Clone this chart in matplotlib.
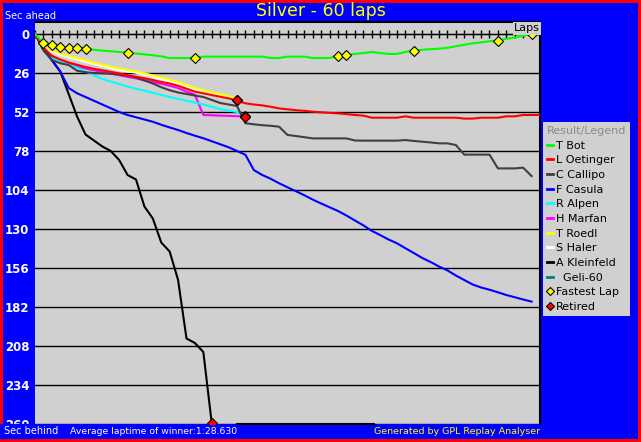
import matplotlib
matplotlib.use("Agg")
import matplotlib.pyplot as plt
from matplotlib.lines import Line2D
from matplotlib.patches import Rectangle

# Gap (sec) to the winner's average lap pace, one value per lap starting at lap 0
t_bot = [0, 6, 7.1, 8.4, 9.1, 9.1, 9.8, 10.5, 11.1, 11.5,
         12, 12.4, 13, 13.6, 14.2, 14.9, 16, 16, 16, 16,
         15.1, 15.1, 15.1, 15.1, 15.1, 15.1, 15.1, 15.1, 16, 16,
         15.1, 15.1, 15.1, 16, 16, 16, 14.4, 13.8, 13.3, 12.7,
         12, 12.7, 13.3, 13.3, 12, 11.1, 10.5, 10.1, 9.8, 9.2,
         8.2, 7.2, 6.2, 5.6, 4.8, 4.4, 3.2, 2.4, 1.2, 0, 0]
l_oetinger = [0, 9, 14.5, 17, 19, 20.5, 22, 23.2, 24.2, 25.2,
              26.3, 27.5, 28.5, 29.5, 30.7, 32, 33, 34.5, 36.5, 38.4,
              39.5, 40.7, 41.8, 42.9, 44.5, 46.2, 47, 47.6, 48.5, 49.6,
              50.2, 50.8, 51.2, 51.8, 52.2, 52.6, 52.9, 53.4, 54, 54.4,
              55.8, 55.8, 55.8, 55.8, 54.9, 55.8, 55.8, 55.8, 55.8, 55.8,
              55.8, 56.4, 56.4, 55.8, 55.8, 55.8, 54.9, 54.9, 54, 54, 54]
c_callipo = [0, 11, 17.3, 19.5, 20.7, 24.5, 25.5, 26, 26.2, 26.5,
             27, 27.8, 29, 31, 33, 35.5, 37.5, 39, 40, 41,
             42, 44, 46, 47, 48, 59.5, 60.2, 60.8, 61.2, 61.8,
             67.3, 68, 68.8, 69.6, 69.6, 69.6, 69.6, 69.6, 71, 71.1,
             71.1, 71.1, 71.1, 71.1, 70.7, 71.3, 71.8, 72.3, 72.9, 72.9,
             74, 80.4, 80.4, 80.4, 80.4, 89.6, 89.6, 89.6, 89.1, 94.7]
f_casula = [0, 9.6, 17.3, 25, 36, 39.5, 42, 44.5, 47, 49.5,
            52, 54, 55.5, 57, 58.5, 60.5, 62.3, 64, 66, 67.8,
            69.5, 71.5, 73.5, 75.5, 78, 80.5, 90.7, 94, 96.5, 99.5,
            102.2, 104.8, 107.5, 110.4, 113, 115.5, 118, 121, 124.3, 127.5,
            131.2, 134, 137, 139.5, 142.8, 146, 149.3, 152, 155, 157.6,
            161, 164, 167, 169, 170.5, 172.2, 174, 175.5, 177, 178.4]
r_alpen = [0, 11, 16, 18.5, 20.5, 22.5, 25, 27.5, 30, 31.7,
           33.4, 35, 36.5, 37.8, 39.2, 40.6, 42, 43.3, 44.5, 45.7,
           47, 48.5, 50, 51, 52, 54.5]
h_marfan = [0, 10, 15.5, 18, 20, 21.5, 23, 24.2, 25.3, 26.4,
            27.5, 28.6, 29.6, 30.8, 32, 33.2, 34.5, 36, 38.4, 40.5,
            54, 54.2, 54.4, 54.6, 54.8, 55.1]
t_roedl = [0, 7, 11, 13, 14.5, 16, 17.5, 19, 20.5, 21.8,
           23, 24, 24.8, 26.2, 27.6, 29, 30.5, 32, 34, 36,
           37.5, 38.8, 40, 41.3, 44.2]
s_haler = [0, 8, 12, 14, 15.5, 17, 18.5, 20, 21.3, 22.7,
           24, 25, 25.8, 27.2, 28.6, 30, 31.5, 33, 35, 37,
           38.5, 39.8, 41, 42.3, 44.2]
a_kleinfeld = [0, 9.6, 17.5, 25, 40, 55, 67, 71, 75, 78,
               84, 94, 97, 115, 123, 139, 145, 164, 203, 206,
               212, 259.5]
geli_60 = []

drivers = ["T Bot", "L Oetinger", "C Callipo", "F Casula", "R Alpen",
           "H Marfan", "T Roedl", "S Haler", "A Kleinfeld", "  Geli-60"]
series = [t_bot, l_oetinger, c_callipo, f_casula, r_alpen,
          h_marfan, t_roedl, s_haler, a_kleinfeld, geli_60]
colors = ["#00ff00", "#ff0000", "#404040", "#0000ff", "#00ffff",
          "#ff00ff", "#ffff00", "#ffffff", "#000000", "#008080"]
retired = ["R Alpen", "H Marfan", "T Roedl", "S Haler", "A Kleinfeld"]

fastest_laps = [1, 2, 3, 4, 5, 6, 11, 19, 36, 37, 45, 55, 59]
y_ticks = [0, 26, 52, 78, 104, 130, 156, 182, 208, 234, 260]

BLUE = "#0000ff"
PLOT_BG = "#d0d0d0"

fig = plt.figure(figsize=(6.41, 4.42), dpi=100)
fig.patch.set_facecolor(BLUE)
fig.patch.set_edgecolor("#ff0000")
fig.patch.set_linewidth(3)

ax = fig.add_axes([35 / 641, 18 / 442, 505 / 641, 402 / 442])
ax.set_facecolor(PLOT_BG)

# draw last driver first so the winner ends up on top
for name, vals, col in reversed(list(zip(drivers, series, colors))):
    if not vals:
        continue
    ax.plot(range(len(vals)), vals, color=col, lw=1.5, zorder=3)

for name, vals in zip(drivers, series):
    if name in retired:
        ax.plot(len(vals) - 1, vals[-1], "D", color="#ff0000", mec="black",
                mew=0.8, ms=5, zorder=5)

ax.plot(fastest_laps, [t_bot[l] for l in fastest_laps], "D", color="#ffff00",
        mec="black", mew=0.8, ms=5, ls="none", zorder=5)

ax.set_xlim(0, 60)
ax.set_ylim(260, -8)

# lap axis sits on the zero line
ax.set_xticks(range(0, 61))
ax.spines["bottom"].set_position(("data", 0))
ax.spines["bottom"].set_color("black")
ax.spines["left"].set_visible(False)
for s in ("top", "right"):
    ax.spines[s].set_color("black")
    ax.spines[s].set_linewidth(1.5)
ax.tick_params(axis="x", direction="inout", length=6, width=1,
               color="black", labelbottom=False)

ax.set_yticks(y_ticks)
ax.set_yticklabels([str(v) for v in y_ticks])
ax.tick_params(axis="y", length=0, pad=4, labelcolor="white", labelsize=8.5)
for lbl in ax.get_yticklabels():
    lbl.set_fontweight("bold")
ax.grid(axis="y", color="black", lw=1)
ax.grid(axis="x", visible=False)
ax.set_axisbelow(True)

ax.text(1.0, 0.997, "Laps", transform=ax.transAxes, ha="right", va="top",
        fontsize=8, color="black", zorder=10, clip_on=False,
        bbox=dict(facecolor=PLOT_BG, edgecolor="none", pad=1.0))

# legend on the right
handles = [Line2D([], [], color=c, lw=2) for c in colors]
handles.append(Line2D([], [], marker="D", color="#ffff00", mec="black",
                      mew=0.8, ms=4, ls="none"))
handles.append(Line2D([], [], marker="D", color="#ff0000", mec="black",
                      mew=0.8, ms=4, ls="none"))
labels = drivers + ["Fastest Lap", "Retired"]
leg = fig.legend(handles, labels, loc="upper left",
                 bbox_to_anchor=(543 / 641, 1 - 122 / 442), borderaxespad=0,
                 title="Result/Legend", alignment="left", fontsize=8,
                 title_fontsize=8, frameon=True, fancybox=False,
                 facecolor=PLOT_BG, edgecolor="none", framealpha=1,
                 handlelength=0.55, handletextpad=0.3, labelspacing=0.42,
                 borderpad=0.35)
leg.get_title().set_color("#8c8c8c")

# hide the lower half of the "260" label like the original
fig.add_artist(Rectangle((0, 4 / 442), 34 / 641, 14 / 442,
                         transform=fig.transFigure, color=BLUE, zorder=5))
fig.add_artist(Line2D([237 / 641, 374 / 641], [18 / 442, 18 / 442],
                      color="black", lw=1.5, zorder=5))

fig.text(321 / 641, 1 - 11 / 442, "Silver - 60 laps", color="#ffff00",
         fontsize=12.5, ha="center", va="center", zorder=6)
fig.text(5 / 641, 1 - 16 / 442, "Sec ahead", color="white", fontsize=7,
         va="center", zorder=6)
fig.text(4 / 641, 11 / 442, "Sec behind", color="white", fontsize=7,
         va="center", zorder=6)
fig.text(70 / 641, 11 / 442, "Average laptime of winner:1:28.630",
         color="white", fontsize=6.7, va="center", zorder=6)
fig.text(540 / 641, 11 / 442, "Generated by GPL Replay Analyser",
         color="#ffff00", fontsize=6.8, ha="right", va="center", zorder=6)

fig.savefig("out.png", dpi=100, facecolor=fig.get_facecolor(),
            edgecolor=fig.get_edgecolor())
